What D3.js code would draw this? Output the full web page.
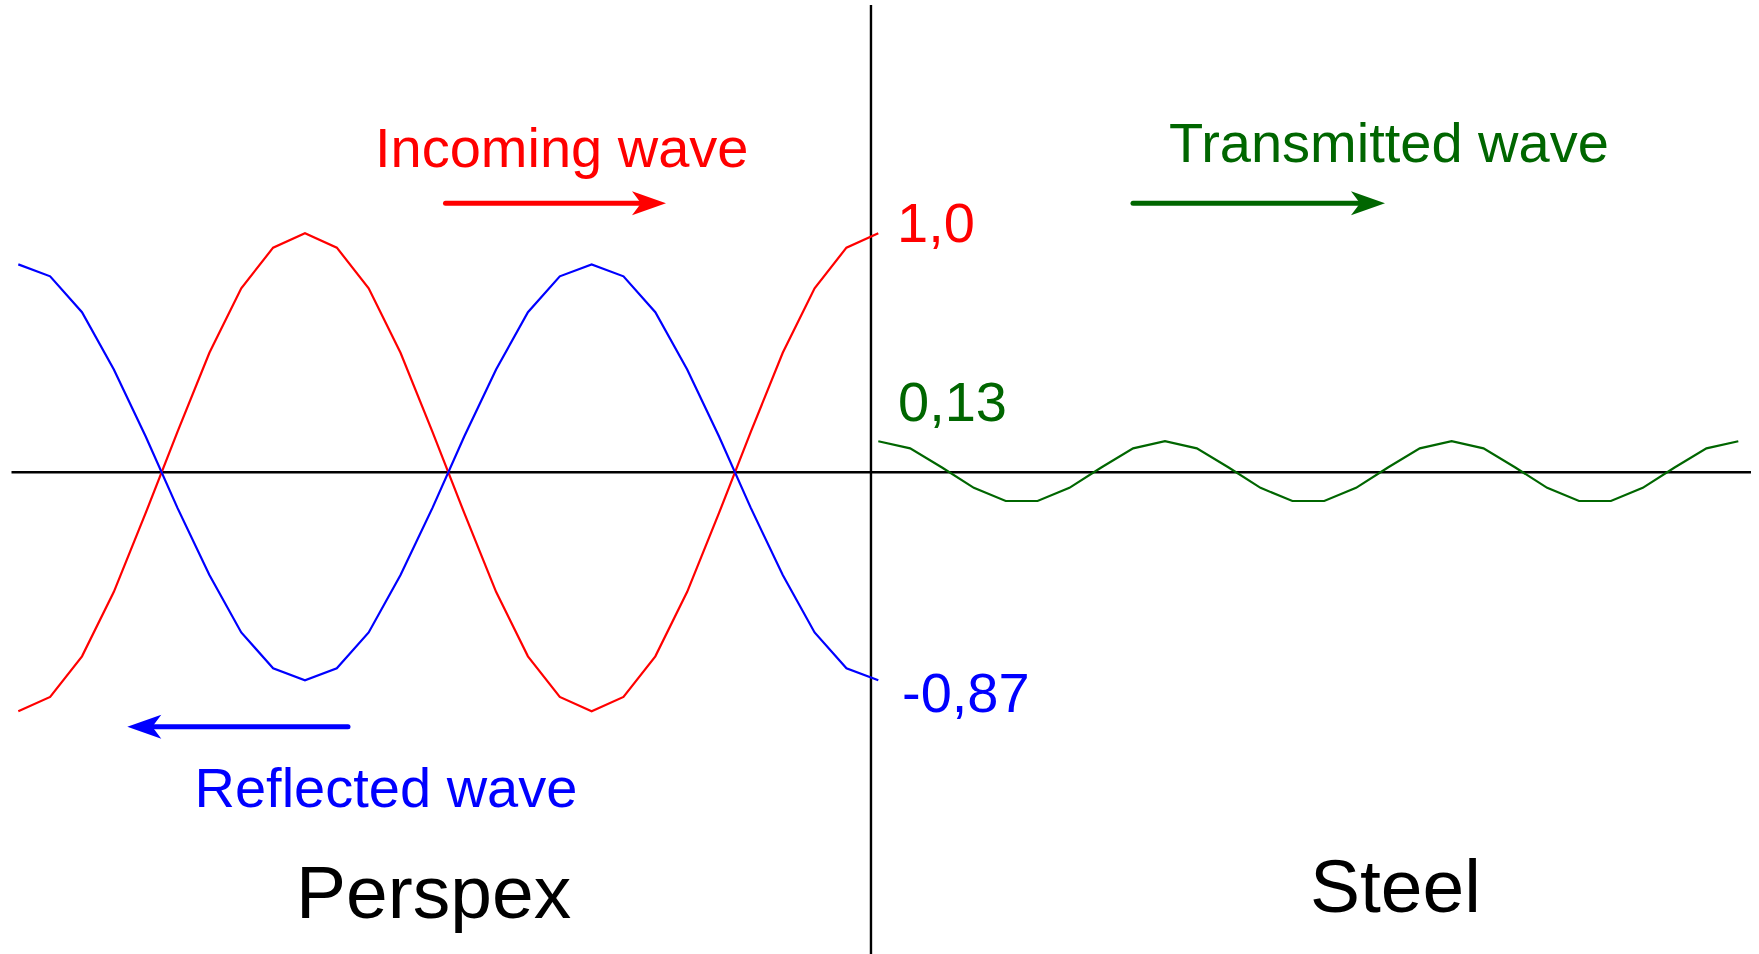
<!DOCTYPE html>
<html>
<head>
<meta charset="utf-8">
<script src="https://cdn.jsdelivr.net/npm/d3@7"></script>
<style>
  html, body { margin: 0; padding: 0; background: #ffffff; }
  svg { display: block; }
  text { font-family: "Liberation Sans", Arial, Helvetica, sans-serif; }
</style>
</head>
<body>
<svg id="chart" width="1759" height="954"></svg>
<script>
// ---- Data ----
// Sample positions (in sampling steps); the wave in Perspex uses steps 0..27,
// the wave in steel continues on steps 27..54.
const perspexSteps = d3.range(0, 28);
const steelSteps = d3.range(27, 55);

const incoming = [-1, -0.94, -0.77, -0.5, -0.17, 0.17, 0.5, 0.77, 0.94, 1,
  0.94, 0.77, 0.5, 0.17, -0.17, -0.5, -0.77, -0.94, -1,
  -0.94, -0.77, -0.5, -0.17, 0.17, 0.5, 0.77, 0.94, 1];

const reflected = [0.87, 0.82, 0.67, 0.43, 0.15, -0.15, -0.43, -0.67, -0.82, -0.87,
  -0.82, -0.67, -0.43, -0.15, 0.15, 0.43, 0.67, 0.82, 0.87,
  0.82, 0.67, 0.43, 0.15, -0.15, -0.43, -0.67, -0.82, -0.87];

const transmitted = [0.13, 0.10, 0.02, -0.065, -0.12, -0.12, -0.065, 0.02, 0.10,
  0.13, 0.10, 0.02, -0.065, -0.12, -0.12, -0.065, 0.02, 0.10,
  0.13, 0.10, 0.02, -0.065, -0.12, -0.12, -0.065, 0.02, 0.10, 0.13];

const valueLabels = ["1,0", "0,13", "-0,87"];
const labelValues = [1.0, 0.13, -0.87];
const waveNames = ["Incoming wave", "Transmitted wave", "Reflected wave"];
const mediumNames = ["Perspex", "Steel"];
const interfaceStep = 26.77;

// ---- Scales ----
const svg = d3.select("#chart");
const x = d3.scaleLinear().domain([0, 54]).range([18.3, 1738.3]);
const y = d3.scaleLinear().domain([-1, 1]).range([711.3, 233.3]);

const RED = "#ff0000", BLUE = "#0000ff", GREEN = "#006600";

// ---- Axes ----
svg.append("line")
  .attr("x1", 11.5).attr("x2", 1751)
  .attr("y1", y(0)).attr("y2", y(0))
  .attr("stroke", "#000").attr("stroke-width", 2.4);
svg.append("line")
  .attr("x1", x(interfaceStep)).attr("x2", x(interfaceStep))
  .attr("y1", 5).attr("y2", 954)
  .attr("stroke", "#000").attr("stroke-width", 2.4);

// ---- Waves ----
const line = d3.line().x(d => x(d[0])).y(d => y(d[1]));
function drawWave(steps, values, color) {
  svg.append("path")
    .datum(steps.map((s, i) => [s, values[i]]))
    .attr("d", line)
    .attr("fill", "none")
    .attr("stroke", color)
    .attr("stroke-width", 2.2)
    .attr("stroke-linejoin", "miter");
}
drawWave(perspexSteps, incoming, RED);
drawWave(perspexSteps, reflected, BLUE);
drawWave(steelSteps, transmitted, GREEN);

// ---- Arrows ----
function arrow(x0, x1, yy, color) {
  const dir = x1 > x0 ? 1 : -1;
  const notch = x1 - dir * 25;
  svg.append("line")
    .attr("x1", x0).attr("x2", notch).attr("y1", yy).attr("y2", yy)
    .attr("stroke", color).attr("stroke-width", 5).attr("stroke-linecap", "round");
  svg.append("path")
    .attr("d", `M${x1},${yy} L${x1 - dir * 34},${yy - 12} L${notch},${yy} L${x1 - dir * 34},${yy + 12} Z`)
    .attr("fill", color);
}
arrow(445.5, 666, 203.3, RED);
arrow(1133, 1385, 203.3, GREEN);
arrow(348, 127.3, 726.7, BLUE);

// ---- Text ----
function label(t, tx, ty, size, color) {
  svg.append("text").attr("x", tx).attr("y", ty)
    .attr("font-size", size).attr("fill", color).text(t);
}
label(waveNames[0], 375, 167, 56, RED);
label(waveNames[1], 1169, 162, 56, GREEN);
label(waveNames[2], 194.5, 807, 56, BLUE);

label(valueLabels[0], 897, y(labelValues[0]) + 9, 56, RED);
label(valueLabels[1], 898, y(labelValues[1]) - 20, 56, GREEN);
label(valueLabels[2], 902, y(labelValues[2]) + 32, 56, BLUE);

label(mediumNames[0], 296, 918, 75, "#000");
label(mediumNames[1], 1310, 912, 75, "#000");
</script>
</body>
</html>
